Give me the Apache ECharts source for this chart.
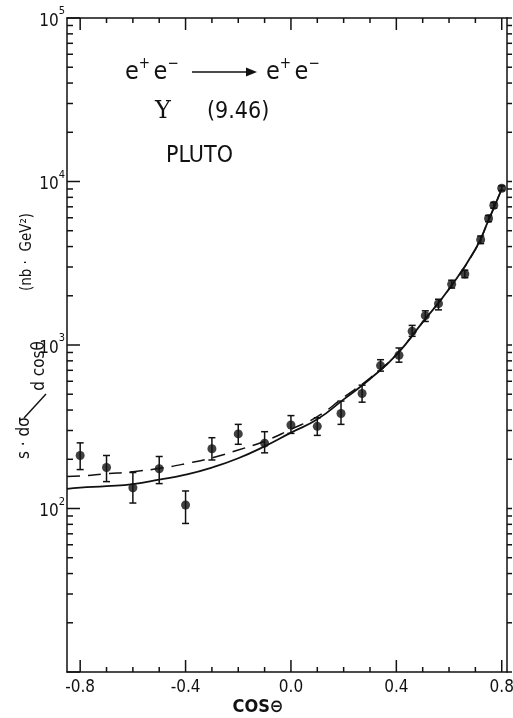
<!DOCTYPE html>
<html>
<head>
<meta charset="utf-8">
<script src="https://cdn.jsdelivr.net/npm/echarts@6/dist/echarts.min.js"></script>
<style>
  html, body { margin: 0; padding: 0; background: #fff; }
  #chart { width: 513px; height: 718px; }
</style>
</head>
<body>
<div id="chart"></div>
<script>
// measured points, cos(theta) and s*dsigma/dcos (nb GeV^2)
var cosX   = [-0.8, -0.7, -0.6, -0.5, -0.4, -0.3, -0.2, -0.1, 0.0, 0.1, 0.19, 0.27, 0.34, 0.41, 0.46, 0.51, 0.56, 0.61, 0.66, 0.72, 0.75, 0.77, 0.80];
var sigma  = [211, 178, 134, 175, 105, 232, 286, 251, 324, 318, 381, 505, 748, 865, 1213, 1512, 1790, 2355, 2720, 4400, 5940, 7160, 9100];
var errLow = [173, 146, 108, 142, 81, 198, 247, 219, 288, 280, 327, 447, 692, 785, 1130, 1393, 1640, 2230, 2580, 4170, 5680, 6870, 8800];
var errHigh= [252, 211, 166, 208, 128, 271, 327, 295, 370, 359, 454, 568, 813, 959, 1318, 1618, 1905, 2490, 2870, 4640, 6200, 7450, 9400];

// theory curves
var solidX = [-0.85, -0.8, -0.7, -0.6, -0.5, -0.4, -0.3, -0.2, -0.1, 0.0, 0.1, 0.2, 0.3, 0.4, 0.5, 0.6, 0.7, 0.75, 0.8];
var solidY = [132, 134, 137, 141, 150, 161, 178, 203, 240, 291, 351, 465, 620, 870, 1380, 2200, 3850, 5800, 9000];
var dashX  = [-0.85, -0.8, -0.7, -0.6, -0.5, -0.4, -0.3, -0.2, -0.1, 0.0, 0.1, 0.2, 0.3, 0.4, 0.5, 0.6, 0.7, 0.75, 0.8];
var dashY  = [157, 158, 163, 168, 176, 188, 204, 228, 258, 305, 365, 478, 628, 875, 1380, 2200, 3850, 5800, 9000];

// axis ticks
var xMajor = [-0.8, -0.4, 0.0, 0.4, 0.8];
var xMinor = [-0.7, -0.6, -0.5, -0.3, -0.2, -0.1, 0.1, 0.2, 0.3, 0.5, 0.6, 0.7];
var yMajor = [10, 100, 1000, 10000, 100000];
var yMinor = [];
for (var d = 10; d < 100000; d *= 10) {
    for (var m = 2; m <= 9; m++) yMinor.push(m * d);
}

var FONT = "'Liberation Sans Narrow', 'DejaVu Sans Condensed', 'Liberation Sans', sans-serif";
var INK = '#111';
var X_MIN = -0.85, X_MAX = 0.82, Y_MIN = 10, Y_MAX = 100000;

function zip(a, b) {
    return a.map(function (v, i) { return [v, b[i]]; });
}

function seg(x1, y1, x2, y2) {
    return { type: 'line', z: 10, shape: { x1: x1, y1: y1, x2: x2, y2: y2 }, style: { stroke: INK, lineWidth: 1.5 } };
}

var eRich = {
    e: { fontSize: 25, lineHeight: 28, fontFamily: FONT, fill: INK, verticalAlign: 'bottom' },
    s: { fontSize: 15, lineHeight: 12, fontFamily: FONT, fill: INK, verticalAlign: 'top' },
    g: { fontSize: 12, lineHeight: 28, fontFamily: FONT, fill: INK, verticalAlign: 'bottom' }
};

var annotations = [
    // process annotation
    { type: 'text', x: 125, y: 71, style: { text: '{e|e}{s|+}{g| }{e|e}{s|−}', textVerticalAlign: 'middle', rich: eRich } },
    { type: 'line', shape: { x1: 192, y1: 72, x2: 250, y2: 72 }, style: { stroke: INK, lineWidth: 1.6 } },
    { type: 'polygon', shape: { points: [[246, 67.5], [257, 72], [246, 76.5]] }, style: { fill: INK } },
    { type: 'text', x: 266, y: 71, style: { text: '{e|e}{s|+}{g| }{e|e}{s|−}', textVerticalAlign: 'middle', rich: eRich } },
    { type: 'text', x: 155, y: 112, style: { text: 'Υ', font: '24px "DejaVu Serif", serif', fill: INK, textVerticalAlign: 'middle' } },
    { type: 'text', x: 207, y: 112, style: { text: '(9.46)', font: '23px ' + FONT, fill: INK, textVerticalAlign: 'middle' } },
    { type: 'text', x: 166, y: 156, style: { text: 'PLUTO', font: '23px ' + FONT, fill: INK, textVerticalAlign: 'middle' } },
    // y title
    { type: 'text', x: 25, y: 438, rotation: Math.PI / 2, style: { text: 's · dσ', font: '17px ' + FONT, fill: INK, textAlign: 'center', textVerticalAlign: 'middle' } },
    { type: 'line', shape: { x1: 24, y1: 418, x2: 46, y2: 394 }, style: { stroke: INK, lineWidth: 1.4 } },
    { type: 'text', x: 40, y: 366, rotation: Math.PI / 2, style: { text: 'd cosθ', font: '17px ' + FONT, fill: INK, textAlign: 'center', textVerticalAlign: 'middle' } },
    { type: 'text', x: 27, y: 252, rotation: Math.PI / 2, style: { text: '(nb ·  GeV²)', font: '15px ' + FONT, fill: INK, textAlign: 'center', textVerticalAlign: 'middle' } },
    // x title
    { type: 'text', x: 258, y: 707, style: { text: 'COS⊖', font: 'bold 18px ' + FONT, fill: INK, textAlign: 'center', textVerticalAlign: 'middle' } }
];

var option = {
    animation: false,
    backgroundColor: '#fff',
    grid: { left: 67, right: 6, top: 18, bottom: 46, outerBoundsMode: 'none', containLabel: false },
    xAxis: [{
        type: 'value', min: X_MIN, max: X_MAX, position: 'bottom',
        axisLine: { show: true, onZero: false, lineStyle: { color: INK, width: 1.5 } },
        axisTick: { show: false },
        axisLabel: {
            show: true, customValues: xMajor, margin: 7, color: INK, fontSize: 17, fontFamily: FONT,
            formatter: function (v) { return (v < 0 ? '-' : '') + Math.abs(v).toFixed(1); }
        },
        splitLine: { show: false }
    }, {
        type: 'value', min: X_MIN, max: X_MAX, position: 'top',
        axisLine: { show: true, onZero: false, lineStyle: { color: INK, width: 1.5 } },
        axisTick: { show: false }, axisLabel: { show: false }, splitLine: { show: false }
    }],
    yAxis: [{
        type: 'log', logBase: 10, min: Y_MIN, max: Y_MAX, position: 'left',
        axisLine: { show: true, onZero: false, lineStyle: { color: INK, width: 1.5 } },
        axisTick: { show: false },
        splitLine: { show: false },
        axisLabel: {
            margin: 2, color: INK, fontFamily: FONT,
            formatter: function (v) {
                var e = Math.round(Math.log10(v));
                if (e < 2) return '';
                return '{b|10}{s|' + e + '}';
            },
            rich: {
                b: { fontSize: 17, lineHeight: 24, fontFamily: FONT, color: INK, verticalAlign: 'bottom' },
                s: { fontSize: 11, lineHeight: 10, fontFamily: FONT, color: INK, verticalAlign: 'top' }
            }
        }
    }, {
        type: 'log', logBase: 10, min: Y_MIN, max: Y_MAX, position: 'right',
        axisLine: { show: true, onZero: false, lineStyle: { color: INK, width: 1.5 } },
        axisTick: { show: false }, axisLabel: { show: false }, splitLine: { show: false }
    }],
    graphic: annotations,
    series: [
        {
            name: 'solid', type: 'line',
            data: zip(solidX, solidY), smooth: true, showSymbol: false,
            lineStyle: { color: INK, width: 1.8 }, z: 2
        },
        {
            name: 'dashed', type: 'line',
            data: zip(dashX, dashY), smooth: true, showSymbol: false,
            lineStyle: { color: INK, width: 1.5, type: [13, 8] }, z: 2
        },
        {
            name: 'errors', type: 'custom',
            data: cosX.map(function (x, i) { return [x, errLow[i], errHigh[i]]; }),
            encode: { x: 0, y: [1, 2] },
            renderItem: function (params, api) {
                var lo = api.coord([api.value(0), api.value(1)]);
                var hi = api.coord([api.value(0), api.value(2)]);
                var w = 3.5;
                return {
                    type: 'group',
                    children: [
                        seg(lo[0], lo[1], hi[0], hi[1]),
                        seg(lo[0] - w, lo[1], lo[0] + w, lo[1]),
                        seg(hi[0] - w, hi[1], hi[0] + w, hi[1])
                    ]
                };
            },
            z: 3
        },
        {
            name: 'data', type: 'scatter',
            data: zip(cosX, sigma), symbol: 'circle', symbolSize: 9,
            itemStyle: { color: INK }, z: 4
        }
    ]
};

var chart = echarts.init(document.getElementById('chart'));
chart.setOption(option);

// frame ticks, placed through the chart's own scales
var finder = { seriesIndex: 3 };
function px(x, y) { return chart.convertToPixel(finder, [x, y]); }
var ticks = [];
var yb = px(0, Y_MIN)[1], yt = px(0, Y_MAX)[1];
var xl = px(X_MIN, 100)[0], xr = px(X_MAX, 100)[0];
function addX(values, len) {
    values.forEach(function (v) {
        var x = px(v, 100)[0];
        ticks.push(seg(x, yb, x, yb - len), seg(x, yt, x, yt + len));
    });
}
function addY(values, len) {
    values.forEach(function (v) {
        var y = px(0, v)[1];
        ticks.push(seg(xl, y, xl + len, y), seg(xr, y, xr + 5, y));
    });
}
addX(xMajor, 12);
addX(xMinor, 5);
addY(yMajor, 13);
addY(yMinor, 6);
chart.setOption({ graphic: annotations.concat(ticks) });
</script>
</body>
</html>
